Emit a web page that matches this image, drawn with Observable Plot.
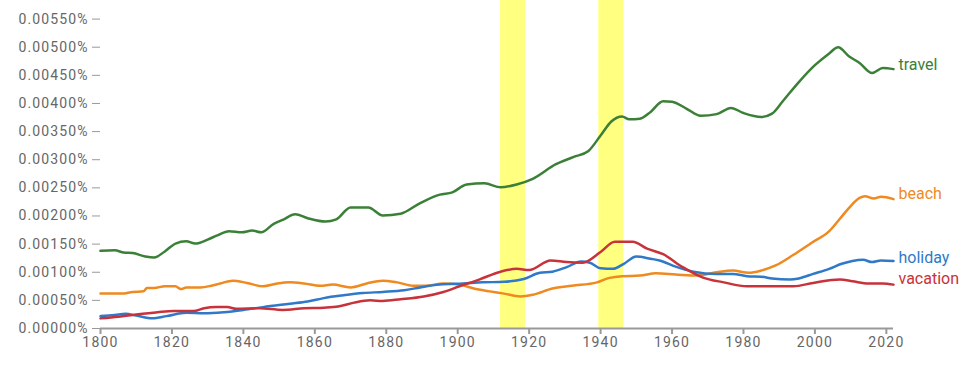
<!DOCTYPE html>
<html>
<head>
<meta charset="utf-8">
<script src="https://cdn.jsdelivr.net/npm/d3@7"></script>
<script src="https://cdn.jsdelivr.net/npm/@observablehq/plot@0.6"></script>
<style>
  html, body { margin: 0; padding: 0; background: #fff; }
  #chart svg { display: block; }
  g[aria-label="y-axis tick label"] text { letter-spacing: 1.1px; }
  g[aria-label="x-axis tick label"] text { letter-spacing: 1.2px; }
</style>
</head>
<body>
<div id="chart"></div>
<script>
const seriesNames = ["travel", "beach", "holiday", "vacation"];
const seriesColors = ["#3b8037", "#ee8a1f", "#2f79c8", "#c8323a"];

const travelYears = [1800,1804,1806.5,1809,1812.5,1815,1818,1821,1824,1826.5,1830,1832.5,1836,1839.5,1842.5,1845,1848.5,1851,1854.5,1858,1863,1866,1870,1875,1879,1884,1889.5,1895,1898.5,1902.5,1907.5,1912,1916.5,1921,1927.5,1932.5,1936.5,1940,1943,1946,1948,1951,1954,1957.5,1960,1964,1968,1972.5,1976.5,1980,1985,1988,1991,1995.5,2000,2004,2006.5,2009.5,2012.5,2016,2019,2022];
const travelValues = [0.00138,0.00139,0.00135,0.00134,0.00128,0.00126,0.00137,0.00151,0.00155,0.00151,0.00158,0.00165,0.00173,0.00171,0.00174,0.00171,0.00186,0.00193,0.00203,0.00196,0.00190,0.00194,0.00215,0.00215,0.00201,0.00204,0.00223,0.00238,0.00242,0.00256,0.00258,0.00251,0.00256,0.00266,0.00292,0.00305,0.00315,0.00343,0.00368,0.00377,0.00372,0.00373,0.00385,0.00404,0.00403,0.00391,0.00378,0.00381,0.00392,0.00383,0.00376,0.00382,0.00404,0.00438,0.00468,0.00489,0.00500,0.00484,0.00472,0.00454,0.00463,0.00461];

const beachYears = [1800,1806,1809,1812,1813,1815,1818,1821,1822.5,1824,1828,1831,1833.5,1837,1841,1845.5,1849.5,1853,1857,1861.5,1865,1870,1874.5,1879,1883,1887.5,1891,1896,1900.5,1904.5,1909,1913,1917.5,1921,1926.5,1932,1939,1942.5,1946,1951,1955.5,1961,1967,1972.5,1977,1981.5,1985,1989,1994,1999,2004,2007,2009.5,2012.5,2014,2016.5,2018.5,2022];
const beachValues = [0.00062,0.00062,0.00065,0.00066,0.00072,0.00072,0.00075,0.00075,0.00070,0.00073,0.00073,0.00076,0.00080,0.00085,0.00081,0.00075,0.00080,0.00082,0.00080,0.00076,0.00078,0.00073,0.00080,0.00085,0.00082,0.00076,0.00076,0.00080,0.00078,0.00071,0.00066,0.00062,0.00057,0.00060,0.00071,0.00076,0.00082,0.00090,0.00093,0.00094,0.00098,0.00096,0.00094,0.00100,0.00103,0.00099,0.00103,0.00112,0.00131,0.00152,0.00173,0.00195,0.00214,0.00232,0.00235,0.00231,0.00234,0.00230];

const holidayYears = [1800,1804,1807,1810,1814.5,1818.5,1824,1829,1834.5,1840,1845.5,1853,1858,1862.5,1868,1873.5,1879,1885,1889.5,1895,1901.5,1907,1913,1918.5,1923,1926.5,1930.5,1934.5,1937,1940,1943.5,1946.5,1950,1954,1956.5,1961,1966,1972.5,1977,1981,1985,1988,1993,1995.5,1999.5,2004,2007.5,2010.5,2013.5,2016,2018.5,2022];
const holidayValues = [0.00022,0.00024,0.00026,0.00023,0.00018,0.00022,0.00028,0.00027,0.00029,0.00033,0.00038,0.00044,0.00048,0.00054,0.00059,0.00063,0.00065,0.00068,0.00073,0.00078,0.00080,0.00082,0.00083,0.00088,0.00099,0.00101,0.00109,0.00119,0.00117,0.00107,0.00106,0.00115,0.00128,0.00124,0.00121,0.00110,0.00101,0.00097,0.00097,0.00093,0.00092,0.00089,0.00087,0.00089,0.00097,0.00106,0.00115,0.00120,0.00122,0.00118,0.00121,0.00120];

const vacationYears = [1800,1805,1810,1816,1820.5,1826,1829,1832.5,1835.5,1838,1844.5,1851,1857,1862.5,1866.5,1871,1875.5,1879,1884,1890.5,1896,1900.5,1906,1912,1916.5,1920,1926,1930.5,1935,1940,1944,1949,1953,1957.5,1963,1968.5,1974.5,1981,1988,1994,1999.5,2007,2010.5,2015,2019,2022];
const vacationValues = [0.00018,0.00021,0.00025,0.00029,0.00031,0.00031,0.00036,0.00038,0.00038,0.00035,0.00036,0.00033,0.00036,0.00037,0.00039,0.00046,0.00050,0.00049,0.00052,0.00057,0.00065,0.00075,0.00087,0.00101,0.00106,0.00104,0.00121,0.00118,0.00117,0.00136,0.00154,0.00154,0.00142,0.00132,0.00109,0.00091,0.00082,0.00075,0.00075,0.00075,0.00081,0.00087,0.00084,0.00080,0.00080,0.00078];

const warStarts = [1912, 1939.5];
const warEnds = [1919, 1946.5];

const xTicks = [1800,1820,1840,1860,1880,1900,1920,1940,1960,1980,2000,2020];
const yTicks = [0,0.0005,0.001,0.0015,0.002,0.0025,0.003,0.0035,0.004,0.0045,0.005,0.0055];

// build table
const seriesYears = [travelYears, beachYears, holidayYears, vacationYears];
const seriesValues = [travelValues, beachValues, holidayValues, vacationValues];
const rows = [];
seriesNames.forEach((name, i) => {
  seriesYears[i].forEach((yr, j) => rows.push({series: name, year: yr, value: seriesValues[i][j]}));
});
const lastRows = seriesNames.map((name, i) => ({
  series: name,
  year: seriesYears[i][seriesYears[i].length - 1],
  value: seriesValues[i][seriesValues[i].length - 1]
}));
const labelDy = {travel: -4, beach: -5, holiday: -3, vacation: -6};
const wars = warStarts.map((s, i) => ({start: s, end: warEnds[i]}));

const chart = Plot.plot({
  width: 980,
  height: 370,
  marginLeft: 100,
  marginRight: 87,
  marginTop: 0,
  marginBottom: 42,
  style: {fontFamily: "Roboto, sans-serif", background: "#fff"},
  x: {domain: [1800, 2022]},
  y: {domain: [0, 0.00583]},
  color: {domain: seriesNames, range: seriesColors},
  marks: [
    Plot.rect(wars, {x1: "start", x2: "end", fill: "#ffff80"}),
    Plot.axisY({ticks: yTicks, tickFormat: d => d.toFixed(5) + "%", tickSize: 8, tickPadding: 4, fontSize: 14, color: "#666", stroke: "#999", label: null}),
    Plot.axisX({ticks: xTicks, tickFormat: d3.format("d"), tickSize: 6, tickPadding: 3, fontSize: 14, color: "#666", stroke: "#999", strokeWidth: 2, label: null}),
    Plot.ruleY([0], {stroke: "#999", strokeWidth: 2}),
    Plot.line(rows, {x: "year", y: "value", z: "series", stroke: "series", strokeWidth: 2.5, curve: "monotone-x"}),
    ...lastRows.map(r => Plot.text([r], {x: "year", y: "value", text: "series", fill: "series", textAnchor: "start", dx: 5, dy: labelDy[r.series], fontSize: 16}))
  ]
});
document.getElementById("chart").appendChild(chart);
</script>
</body>
</html>
